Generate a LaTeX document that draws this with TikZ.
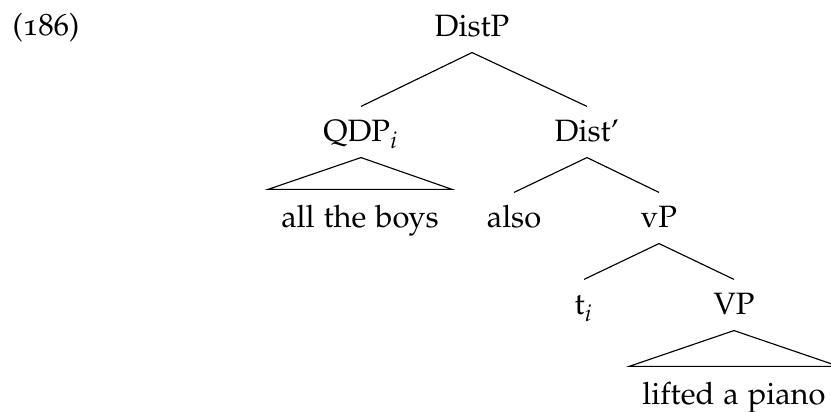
\documentclass[tikz,border=0pt]{standalone}
\usepackage[T1]{fontenc}
\usepackage[osf]{mathpazo}
\begin{document}
\begin{tikzpicture}[
        x=0.35pt, y=-0.35pt,
        every node/.append style={anchor=base, inner xsep=0pt, inner ysep=1.5pt, text height=10.75pt, text depth=3.75pt, font=\fontsize{10.8}{13}\selectfont},
        roof/.style={inner xsep=4.5pt, text height=11.8pt}
    ]
        \useasboundingbox (0,0) rectangle (831,412);
        \node (0) [anchor=base west] at (12,36) {(186)};
        \node (1) at (472,37) {DistP};
        \node (2) at (361,142) {QDP$_i$};
        \node (3) at (587,142) {Dist'};
        \node (4) [roof] at (360,228) {all the boys};
        \node (5) at (514,228) {also};
        \node (6) at (659,228) {vP};
        \node (7) at (584,315) {t$_i$};
        \node (8) at (734,315) {VP};
        \node (9) [roof] at (734,405) {lifted a piano};

        \draw (1.south) -- (2.north);
        \draw (1.south) -- (3.north);
        \draw (2.south) -- (4.north west) -- (4.north east) -- cycle;
        \draw (3.south) -- (5.north);
        \draw (3.south) -- (6.north);
        \draw (6.south) -- (7.north);
        \draw (6.south) -- (8.north);
        \draw (8.south) -- (9.north west) -- (9.north east) -- cycle;
\end{tikzpicture}
\end{document}
